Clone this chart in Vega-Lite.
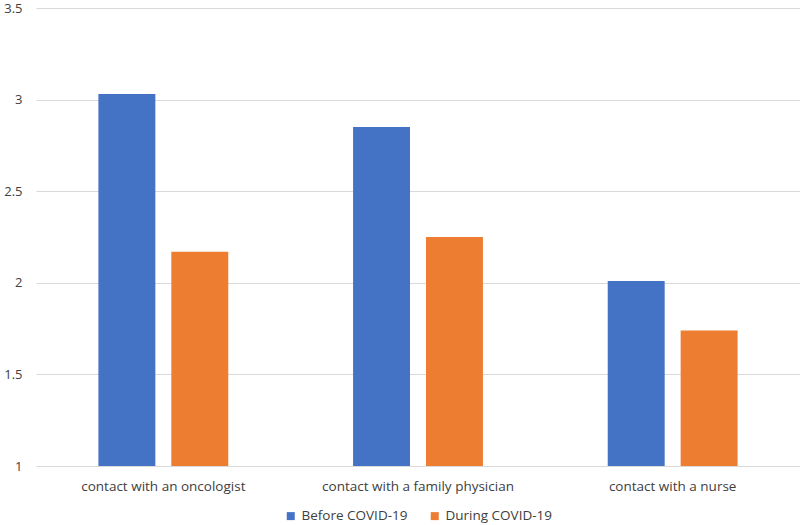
{
  "$schema": "https://vega.github.io/schema/vega-lite/v6.json",
  "autosize": "none",
  "width": 764,
  "height": 458,
  "padding": {"left": 36, "top": 8, "right": 0, "bottom": 59},
  "background": "white",
  "data": {"values": [
    {"category": "contact with an oncologist", "period": "Before COVID-19", "value": 3.03},
    {"category": "contact with an oncologist", "period": "During COVID-19", "value": 2.17},
    {"category": "contact with a family physician", "period": "Before COVID-19", "value": 2.85},
    {"category": "contact with a family physician", "period": "During COVID-19", "value": 2.25},
    {"category": "contact with a nurse", "period": "Before COVID-19", "value": 2.01},
    {"category": "contact with a nurse", "period": "During COVID-19", "value": 1.74}
  ]},
  "mark": {"type": "bar", "clip": true},
  "encoding": {
    "x": {"field": "category", "type": "nominal", "sort": null,
      "scale": {"paddingInner": 0.49, "paddingOuter": 0.245},
      "axis": {"title": null, "labelAngle": 0, "labelLimit": 0, "domain": false, "ticks": false, "labelPadding": 13, "labelFont": "Open Sans", "labelFontSize": 13.5, "labelColor": "#404040"}},
    "xOffset": {"field": "period", "type": "nominal", "scale": {"paddingInner": 0.219, "paddingOuter": 0}},
    "y": {"field": "value", "type": "quantitative",
      "scale": {"domain": [1, 3.5], "zero": false},
      "axis": {"title": null, "values": [1, 1.5, 2, 2.5, 3, 3.5], "format": "~g", "domain": false, "ticks": false, "labelPadding": 14, "gridColor": "#d9d9d9", "labelFont": "Open Sans", "labelFontSize": 13, "labelColor": "#404040"}},
    "y2": {"datum": 1},
    "color": {"field": "period", "type": "nominal",
      "scale": {"range": ["#4472C4", "#ED7D31"]},
      "legend": {"title": null, "orient": "bottom", "direction": "horizontal", "symbolType": "square", "symbolSize": 64, "symbolStrokeWidth": 0, "labelOffset": 4, "labelFont": "Open Sans", "labelFontSize": 13.5, "labelColor": "#404040", "columnPadding": 20, "offset": 16}}
  },
  "config": {"view": {"stroke": null}, "legend": {"layout": {"bottom": {"anchor": "middle"}}}}
}
